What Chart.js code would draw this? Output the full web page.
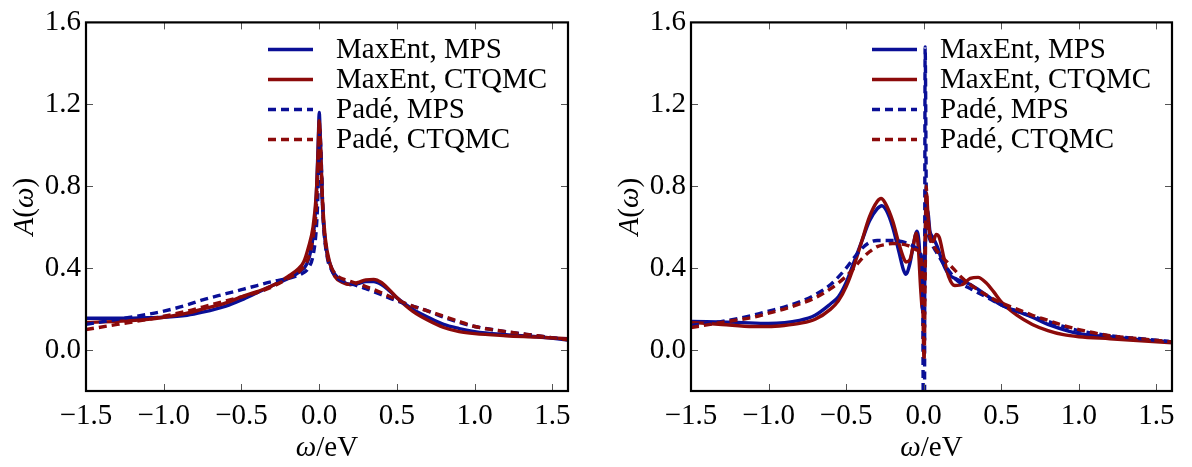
<!DOCTYPE html>
<html lang="en">
<head>
<meta charset="UTF-8">
<title>Spectral functions A(ω)</title>
<script src="https://cdn.jsdelivr.net/npm/chart.js@4.4.1/dist/chart.umd.js"></script>
<style>
  body { margin: 0; background: #fff; }
  .panel { position: absolute; top: 0; width: 596px; height: 467px; }
  #left { left: 0; }
  #right { left: 596px; }
</style>
</head>
<body>
<div class="panel" id="left"><canvas id="chartL"></canvas></div>
<div class="panel" id="right"><canvas id="chartR"></canvas></div>
<script>
// ---- data ----
const seriesLabels = ['MaxEnt, MPS', 'MaxEnt, CTQMC', 'Padé, MPS', 'Padé, CTQMC'];
const seriesColors = ['#0a0f96', '#8c0a0a', '#0a0f96', '#8c0a0a'];
const seriesDash = [[], [], [8, 5], [8, 5]];

const xTicks = [-1.5, -1.0, -0.5, 0.0, 0.5, 1.0, 1.5];
const yTicks = [0.0, 0.4, 0.8, 1.2, 1.6];

// left panel
const wL_maxMPS = [-1.5,-1.3,-1.1,-1.0,-0.85,-0.75,-0.6,-0.5,-0.4,-0.3,-0.2,-0.13,-0.08,-0.05,-0.03,-0.015,-0.005,0,0.008,0.02,0.04,0.07,0.1,0.15,0.2,0.25,0.3,0.35,0.4,0.45,0.5,0.6,0.7,0.8,0.9,1.0,1.2,1.4,1.6];
const aL_maxMPS = [0.155,0.155,0.158,0.16,0.17,0.185,0.215,0.245,0.28,0.315,0.35,0.38,0.42,0.5,0.62,0.82,1.05,1.16,1.0,0.72,0.52,0.42,0.37,0.335,0.32,0.325,0.335,0.335,0.32,0.29,0.255,0.2,0.16,0.125,0.105,0.09,0.075,0.065,0.05];

const wL_maxQMC = [-1.5,-1.3,-1.1,-1.0,-0.85,-0.75,-0.6,-0.5,-0.4,-0.3,-0.2,-0.13,-0.1,-0.07,-0.04,-0.02,-0.008,0,0.008,0.02,0.04,0.07,0.1,0.15,0.2,0.25,0.3,0.35,0.4,0.45,0.5,0.6,0.7,0.8,0.9,1.0,1.2,1.4,1.6];
const aL_maxQMC = [0.135,0.14,0.15,0.16,0.18,0.2,0.23,0.26,0.285,0.315,0.36,0.40,0.43,0.5,0.6,0.75,0.95,1.12,1.0,0.75,0.54,0.42,0.36,0.33,0.32,0.33,0.343,0.345,0.33,0.295,0.255,0.19,0.145,0.11,0.09,0.08,0.07,0.063,0.055];

const wL_padeMPS = [-1.5,-1.3,-1.1,-1.0,-0.85,-0.75,-0.6,-0.5,-0.4,-0.3,-0.2,-0.12,-0.07,-0.04,-0.02,-0.01,-0.003,0.004,0.012,0.025,0.05,0.08,0.12,0.16,0.2,0.3,0.4,0.5,0.6,0.7,0.8,0.9,1.0,1.2,1.4,1.6];
const aL_padeMPS = [0.125,0.15,0.175,0.19,0.22,0.245,0.275,0.295,0.315,0.335,0.35,0.37,0.4,0.46,0.58,0.72,0.9,1.07,0.95,0.65,0.46,0.39,0.35,0.335,0.325,0.3,0.27,0.24,0.215,0.19,0.16,0.135,0.115,0.09,0.07,0.05];

const wL_padeQMC = [-1.5,-1.3,-1.1,-1.0,-0.85,-0.75,-0.6,-0.5,-0.4,-0.3,-0.2,-0.12,-0.07,-0.04,-0.02,-0.01,-0.003,0.004,0.012,0.025,0.05,0.08,0.12,0.16,0.2,0.3,0.4,0.5,0.6,0.7,0.8,0.9,1.0,1.2,1.4,1.6];
const aL_padeQMC = [0.1,0.125,0.15,0.165,0.19,0.21,0.24,0.26,0.28,0.31,0.35,0.39,0.45,0.55,0.68,0.85,1.0,1.08,0.92,0.66,0.47,0.4,0.36,0.345,0.335,0.31,0.28,0.245,0.215,0.19,0.165,0.14,0.115,0.09,0.07,0.05];

// right panel
const wR_maxMPS = [-1.5,-1.2,-1.0,-0.8,-0.7,-0.6,-0.55,-0.5,-0.45,-0.4,-0.35,-0.3,-0.27,-0.24,-0.2,-0.16,-0.13,-0.115,-0.09,-0.06,-0.045,-0.03,-0.015,-0.005,0.005,0.015,0.025,0.04,0.06,0.09,0.12,0.16,0.2,0.3,0.4,0.5,0.6,0.7,0.8,0.9,1.0,1.2,1.4,1.6];
const aR_maxMPS = [0.14,0.135,0.13,0.145,0.17,0.226,0.26,0.33,0.43,0.53,0.63,0.69,0.705,0.68,0.6,0.48,0.39,0.37,0.42,0.54,0.58,0.52,0.3,0.18,0.35,0.62,0.68,0.58,0.55,0.5,0.43,0.37,0.35,0.32,0.27,0.22,0.19,0.16,0.125,0.1,0.08,0.065,0.05,0.04];

const wR_maxQMC = [-1.5,-1.3,-1.1,-1.0,-0.9,-0.8,-0.7,-0.6,-0.55,-0.5,-0.45,-0.4,-0.35,-0.3,-0.275,-0.25,-0.2,-0.16,-0.13,-0.115,-0.09,-0.065,-0.05,-0.035,-0.02,-0.008,0.002,0.01,0.017,0.028,0.045,0.06,0.08,0.1,0.13,0.16,0.2,0.25,0.3,0.35,0.4,0.45,0.5,0.6,0.7,0.8,0.9,1.0,1.2,1.4,1.6];
const aR_maxQMC = [0.135,0.125,0.115,0.115,0.12,0.13,0.15,0.2,0.24,0.31,0.41,0.53,0.65,0.725,0.74,0.72,0.63,0.52,0.45,0.43,0.44,0.52,0.57,0.5,0.3,0.2,0.3,0.6,0.77,0.65,0.54,0.53,0.565,0.55,0.45,0.36,0.315,0.32,0.35,0.355,0.33,0.285,0.235,0.17,0.125,0.095,0.075,0.065,0.055,0.045,0.035];

// Padé MPS has a pole just above zero: drops off the bottom, comes back in up to ~1.48
const wR_padeMPS = [-1.5,-1.3,-1.1,-1.0,-0.9,-0.8,-0.7,-0.6,-0.5,-0.45,-0.4,-0.35,-0.3,-0.2,-0.1,-0.05,-0.02,-0.008,0.003,0.009,0.018,0.03,0.05,0.08,0.12,0.16,0.2,0.25,0.3,0.4,0.5,0.6,0.7,0.8,0.9,1.0,1.2,1.4,1.6];
const aR_padeMPS = [0.12,0.14,0.17,0.19,0.21,0.235,0.27,0.32,0.40,0.45,0.495,0.525,0.535,0.535,0.52,0.50,0.47,0.35,-1.2,1.48,0.65,0.56,0.52,0.48,0.43,0.39,0.35,0.32,0.3,0.26,0.22,0.19,0.165,0.14,0.115,0.095,0.07,0.055,0.04];

const wR_padeQMC = [-1.5,-1.3,-1.1,-1.0,-0.9,-0.8,-0.7,-0.6,-0.5,-0.45,-0.4,-0.35,-0.3,-0.25,-0.2,-0.1,-0.05,-0.02,-0.008,0.002,0.01,0.016,0.025,0.04,0.07,0.1,0.15,0.2,0.25,0.3,0.4,0.5,0.6,0.7,0.8,0.9,1.0,1.2,1.4,1.6];
const aR_padeQMC = [0.11,0.135,0.16,0.18,0.2,0.225,0.255,0.3,0.36,0.4,0.445,0.48,0.505,0.515,0.52,0.51,0.49,0.46,0.3,-0.05,0.4,0.8,0.62,0.55,0.5,0.47,0.43,0.39,0.35,0.32,0.27,0.23,0.2,0.17,0.145,0.12,0.1,0.07,0.055,0.04];

// ---- drawing ----
const FONT = 'Liberation Serif';
const fmt = v => (v < 0 ? '\u2212' : '') + Math.abs(v).toFixed(1);

function drawParts(ctx, parts, x, y) {
  // parts: [text, style]; x is left start
  parts.forEach(p => {
    ctx.font = p[1] + ' 29px "' + FONT + '"';
    ctx.fillText(p[0], x, y);
    x += ctx.measureText(p[0]).width;
  });
}
function partsWidth(ctx, parts) {
  let w = 0;
  parts.forEach(p => { ctx.font = p[1] + ' 29px "' + FONT + '"'; w += ctx.measureText(p[0]).width; });
  return w;
}

const framePlugin = {
  id: 'frame',
  afterDraw(chart) {
    const ctx = chart.ctx, a = chart.chartArea;
    const xs = chart.scales.x, ys = chart.scales.y;
    ctx.save();
    // inner ticks on all four sides
    ctx.strokeStyle = '#555';
    ctx.lineWidth = 1;
    ctx.beginPath();
    xTicks.forEach(v => {
      const px = Math.round(xs.getPixelForValue(v)) + 0.5;
      ctx.moveTo(px, a.bottom); ctx.lineTo(px, a.bottom - 7);
      ctx.moveTo(px, a.top); ctx.lineTo(px, a.top + 7);
    });
    yTicks.forEach(v => {
      const py = Math.round(ys.getPixelForValue(v)) + 0.5;
      ctx.moveTo(a.left, py); ctx.lineTo(a.left + 7, py);
      ctx.moveTo(a.right, py); ctx.lineTo(a.right - 7, py);
    });
    ctx.stroke();
    // frame
    ctx.strokeStyle = '#000';
    ctx.lineWidth = 2.2;
    ctx.strokeRect(a.left, a.top, a.right - a.left, a.bottom - a.top);

    // axis titles
    ctx.fillStyle = '#000';
    ctx.textBaseline = 'alphabetic';
    ctx.textAlign = 'left';
    const xt = [['ω', 'italic'], ['/', 'normal'], ['eV', 'normal']];
    drawParts(ctx, xt, (a.left + a.right) / 2 - partsWidth(ctx, xt) / 2, 456);
    const yt = [['A', 'italic'], ['(', 'normal'], ['ω', 'italic'], [')', 'normal']];
    ctx.save();
    ctx.translate(a.left - 53, (a.top + a.bottom) / 2);
    ctx.rotate(-Math.PI / 2);
    drawParts(ctx, yt, -partsWidth(ctx, yt) / 2, 0);
    ctx.restore();

    // legend, top right inside the axes
    chart.data.datasets.forEach((ds, i) => {
      const y = a.top + 27 + i * 30;
      ctx.strokeStyle = ds.borderColor;
      ctx.lineWidth = 3.5;
      ctx.setLineDash(ds.borderDash);
      ctx.beginPath();
      ctx.moveTo(a.right - 300, y); ctx.lineTo(a.right - 255, y);
      ctx.stroke();
      ctx.setLineDash([]);
      ctx.font = '29px "' + FONT + '"';
      ctx.textBaseline = 'middle';
      ctx.fillText(ds.label, a.right - 232, y + 1);
    });
    ctx.restore();
  }
};

function buildChart(id, ws, as, axisLeft, padRight) {
  return new Chart(document.getElementById(id), {
    type: 'line',
    data: {
      datasets: ws.map((w, i) => ({
        label: seriesLabels[i],
        data: w.map((x, k) => ({ x: x, y: as[i][k] })),
        borderColor: seriesColors[i],
        borderWidth: 3.4,
        borderDash: seriesDash[i],
        pointRadius: 0,
        cubicInterpolationMode: 'monotone',
        fill: false,
        order: 4 - i
      }))
    },
    options: {
      responsive: true,
      maintainAspectRatio: false,
      animation: false,
      layout: { padding: { top: 14, right: padRight, left: 0, bottom: 0 } },
      plugins: { legend: { display: false }, tooltip: { enabled: false } },
      scales: {
        x: {
          type: 'linear', min: -1.5, max: 1.6,
          grid: { display: false, drawTicks: false },
          border: { display: false },
          afterFit: s => { s.height = 76; },
          afterBuildTicks: s => { s.ticks = xTicks.map(v => ({ value: v })); },
          ticks: { font: { family: FONT, size: 29 }, color: '#000', padding: 8,
                   maxRotation: 0, autoSkip: false, callback: fmt }
        },
        y: {
          type: 'linear', min: -0.2, max: 1.6,
          grid: { display: false, drawTicks: false },
          border: { display: false },
          afterFit: s => { s.width = axisLeft; },
          afterBuildTicks: s => { s.ticks = yTicks.map(v => ({ value: v })); },
          ticks: { font: { family: FONT, size: 29 }, color: '#000', padding: 5,
                   autoSkip: false, callback: fmt }
        }
      }
    },
    plugins: [framePlugin]
  });
}

buildChart('chartL', [wL_maxMPS, wL_maxQMC, wL_padeMPS, wL_padeQMC],
                     [aL_maxMPS, aL_maxQMC, aL_padeMPS, aL_padeQMC], 86, 28);
// right panel axes start 9px further in than the left one
buildChart('chartR', [wR_maxMPS, wR_maxQMC, wR_padeMPS, wR_padeQMC],
                     [aR_maxMPS, aR_maxQMC, aR_padeMPS, aR_padeQMC], 95, 20);
</script>
</body>
</html>
